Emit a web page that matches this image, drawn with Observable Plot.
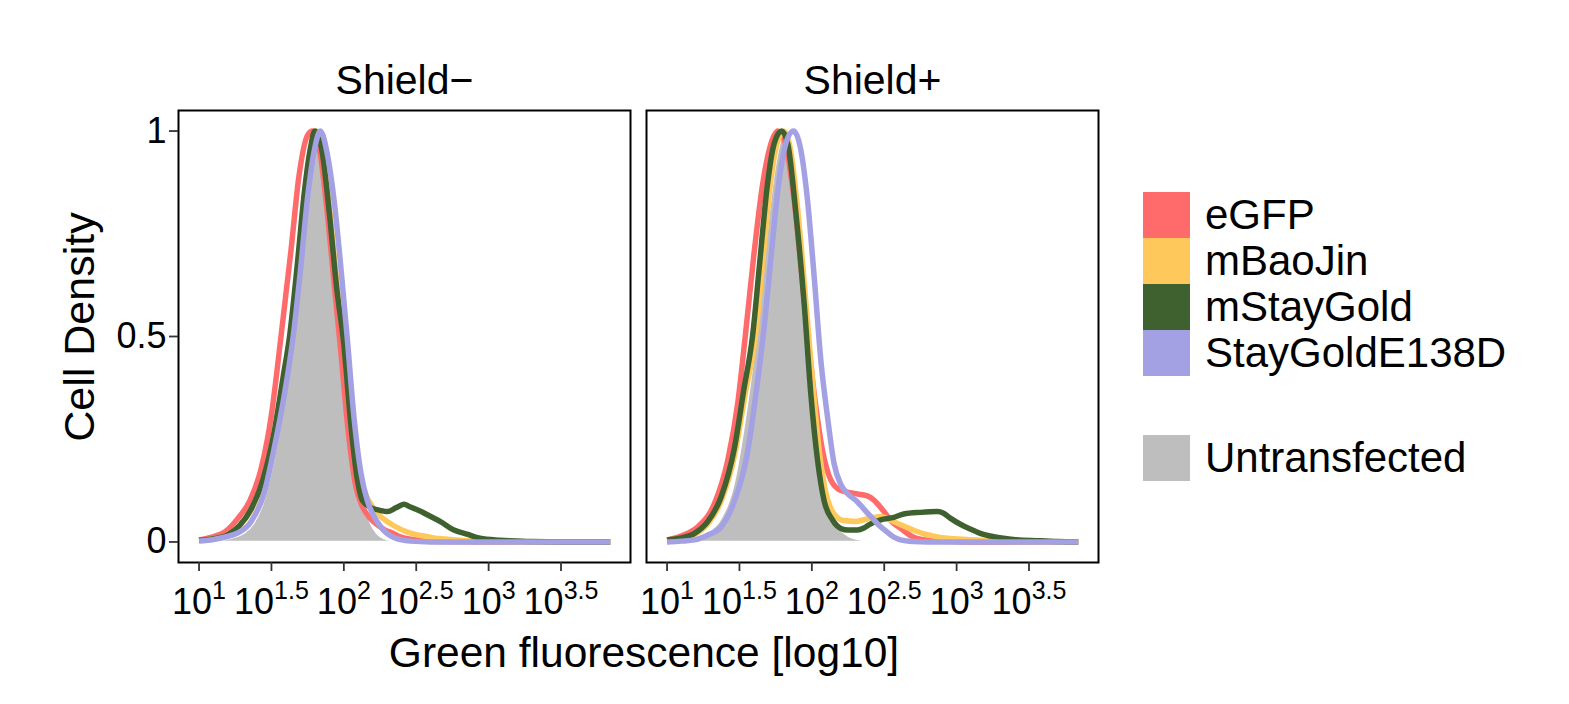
<!DOCTYPE html>
<html>
<head>
<meta charset="utf-8">
<script src="https://cdn.jsdelivr.net/npm/d3@7"></script>
<script src="https://cdn.jsdelivr.net/npm/@observablehq/plot@0.6"></script>
<style>
  html, body { margin: 0; padding: 0; background: #fff; }
  #wrap { position: relative; width: 1569px; height: 704px; font-family: "Liberation Sans", Arial, sans-serif; }
  .lg { position: absolute; left: 1143px; display: flex; flex-direction: column; }
  .row { display: flex; align-items: center; height: 46px; }
  .key { width: 47px; height: 46px; margin-right: 15px; }
  .lab { font-size: 42px; line-height: 46px; color: #000; white-space: nowrap; }
</style>
</head>
<body>
<div id="wrap"></div>
<script>
// ---- categories ----
const panels = ["Shield\u2212", "Shield+"];
const series = ["eGFP", "mBaoJin", "mStayGold", "StayGoldE138D"];
const seriesColors = ["#FF6B6B", "#FFC85A", "#3F612F", "#A3A0E3"];
const controlName = "Untransfected";
const controlColor = "#BEBEBE";
const xTicks = [1, 1.5, 2, 2.5, 3, 3.5];
const yTicks = [0, 0.5, 1];
const yTickLabels = ["0", "0.5", "1"];

// ---- Shield- : [log10 fluorescence, scaled density] ----
const minus_eGFP = [[1.00,0.005],[1.10,0.013],[1.18,0.025],[1.27,0.058],[1.35,0.10],[1.43,0.18],[1.50,0.31],[1.566,0.50],[1.635,0.71],[1.69,0.89],[1.75,0.99],[1.785,1.0],[1.83,0.96],[1.88,0.82],[1.93,0.64],[1.98,0.46],[2.03,0.27],[2.08,0.14],[2.13,0.085],[2.18,0.058],[2.23,0.042],[2.28,0.03],[2.32,0.024],[2.38,0.014],[2.44,0.008],[2.55,0.003],[2.7,0.001],[3.0,0],[3.84,0]];
const minus_mBaoJin = [[1.00,0.004],[1.10,0.008],[1.20,0.018],[1.28,0.04],[1.36,0.078],[1.44,0.145],[1.52,0.26],[1.58,0.39],[1.635,0.50],[1.69,0.68],[1.74,0.86],[1.78,0.96],[1.81,1.0],[1.855,0.95],[1.905,0.80],[1.955,0.62],[2.005,0.47],[2.055,0.28],[2.095,0.17],[2.15,0.115],[2.20,0.085],[2.26,0.06],[2.32,0.045],[2.38,0.033],[2.44,0.024],[2.50,0.018],[2.56,0.014],[2.62,0.010],[2.70,0.007],[2.80,0.004],[2.92,0.002],[3.1,0.001],[3.3,0],[3.84,0]];
const minus_mStayGold = [[1.00,0.004],[1.10,0.008],[1.20,0.018],[1.28,0.04],[1.36,0.08],[1.44,0.15],[1.52,0.27],[1.58,0.40],[1.625,0.50],[1.68,0.68],[1.73,0.86],[1.77,0.96],[1.80,1.0],[1.85,0.95],[1.90,0.80],[1.95,0.62],[2.00,0.48],[2.05,0.28],[2.09,0.16],[2.13,0.10],[2.19,0.083],[2.25,0.077],[2.30,0.074],[2.36,0.083],[2.415,0.092],[2.46,0.085],[2.51,0.078],[2.60,0.062],[2.67,0.049],[2.76,0.029],[2.85,0.019],[2.94,0.009],[3.08,0.004],[3.3,0.001],[3.5,0],[3.84,0]];
const minus_StayGoldE138D = [[1.00,0.002],[1.10,0.006],[1.18,0.012],[1.268,0.022],[1.36,0.05],[1.45,0.12],[1.52,0.23],[1.59,0.36],[1.65,0.50],[1.70,0.66],[1.75,0.84],[1.80,0.96],[1.837,1.0],[1.888,0.94],[1.933,0.83],[1.979,0.67],[2.025,0.49],[2.071,0.30],[2.117,0.17],[2.163,0.10],[2.209,0.062],[2.255,0.037],[2.30,0.02],[2.346,0.011],[2.40,0.005],[2.46,0.002],[2.6,0],[3.84,0]];
const minus_Untransfected = [[1.00,0],[1.10,0.002],[1.20,0.006],[1.314,0.02],[1.383,0.045],[1.452,0.10],[1.52,0.20],[1.589,0.34],[1.66,0.52],[1.727,0.76],[1.784,0.93],[1.823,1.0],[1.87,0.95],[1.91,0.84],[1.956,0.66],[1.99,0.53],[2.025,0.40],[2.071,0.25],[2.117,0.14],[2.151,0.086],[2.186,0.045],[2.23,0.02],[2.30,0.005],[2.40,0.001],[2.5,0],[3.84,0]];

// ---- Shield+ ----
const plus_eGFP = [[1.00,0.005],[1.10,0.015],[1.213,0.037],[1.328,0.094],[1.42,0.20],[1.489,0.34],[1.54,0.50],[1.60,0.70],[1.66,0.87],[1.71,0.96],[1.741,0.99],[1.764,1.0],[1.81,0.978],[1.878,0.832],[1.947,0.589],[2.016,0.362],[2.073,0.224],[2.131,0.151],[2.20,0.125],[2.291,0.118],[2.383,0.112],[2.429,0.102],[2.498,0.074],[2.55,0.05],[2.613,0.033],[2.70,0.012],[2.80,0.004],[2.9,0.002],[3.1,0],[3.84,0]];
const plus_mBaoJin = [[1.00,0.004],[1.10,0.008],[1.19,0.018],[1.282,0.044],[1.374,0.10],[1.466,0.21],[1.54,0.36],[1.61,0.50],[1.66,0.68],[1.71,0.86],[1.76,0.97],[1.805,1.0],[1.85,0.96],[1.905,0.80],[1.96,0.58],[2.01,0.37],[2.055,0.21],[2.10,0.115],[2.15,0.07],[2.22,0.052],[2.30,0.05],[2.38,0.056],[2.475,0.062],[2.566,0.049],[2.658,0.035],[2.70,0.029],[2.773,0.02],[2.819,0.016],[2.888,0.011],[2.98,0.008],[3.21,0.004],[3.4,0.001],[3.6,0],[3.84,0]];
const plus_mStayGold = [[1.00,0.005],[1.10,0.01],[1.19,0.021],[1.282,0.05],[1.374,0.11],[1.466,0.23],[1.53,0.37],[1.59,0.50],[1.64,0.68],[1.69,0.86],[1.74,0.97],[1.791,1.0],[1.833,0.97],[1.89,0.80],[1.947,0.58],[1.993,0.36],[2.039,0.20],[2.085,0.10],[2.142,0.054],[2.20,0.033],[2.25,0.029],[2.314,0.029],[2.36,0.034],[2.40,0.043],[2.475,0.054],[2.567,0.060],[2.635,0.068],[2.75,0.072],[2.865,0.074],[2.91,0.07],[2.956,0.058],[3.026,0.043],[3.09,0.032],[3.163,0.021],[3.255,0.013],[3.323,0.009],[3.392,0.006],[3.576,0.003],[3.7,0.001],[3.84,0]];
const plus_StayGoldE138D = [[1.00,0],[1.10,0.002],[1.19,0.005],[1.282,0.017],[1.374,0.037],[1.466,0.10],[1.557,0.22],[1.61,0.35],[1.67,0.52],[1.72,0.70],[1.77,0.87],[1.83,0.98],[1.874,1.0],[1.924,0.954],[1.97,0.832],[2.016,0.646],[2.062,0.443],[2.108,0.305],[2.154,0.19],[2.20,0.14],[2.246,0.118],[2.314,0.098],[2.36,0.08],[2.406,0.062],[2.46,0.042],[2.521,0.024],[2.57,0.011],[2.613,0.005],[2.7,0.001],[2.8,0],[3.84,0]];
const plus_Untransfected = [[1.00,0],[1.167,0.005],[1.282,0.021],[1.374,0.054],[1.466,0.14],[1.557,0.33],[1.62,0.50],[1.69,0.74],[1.75,0.91],[1.81,0.99],[1.85,0.95],[1.90,0.80],[1.947,0.60],[1.993,0.42],[2.039,0.26],[2.085,0.15],[2.131,0.08],[2.177,0.04],[2.245,0.015],[2.337,0.004],[2.45,0.001],[2.6,0],[3.84,0]];

// ---- build tables ----
const curveSets = {
  [panels[0]]: [minus_eGFP, minus_mBaoJin, minus_mStayGold, minus_StayGoldE138D],
  [panels[1]]: [plus_eGFP, plus_mBaoJin, plus_mStayGold, plus_StayGoldE138D]
};
const controlSets = { [panels[0]]: minus_Untransfected, [panels[1]]: plus_Untransfected };

const lines = [];
series.forEach((s, i) => {
  panels.forEach(p => {
    for (const [x, y] of curveSets[p][i]) lines.push({panel: p, series: s, x, y});
  });
});
const control = [];
panels.forEach(p => { for (const [x, y] of controlSets[p]) control.push({panel: p, x, y}); });

const FONT = '"Liberation Sans", Arial, sans-serif';

const chart = Plot.plot({
  width: 1569,
  height: 704,
  marginLeft: 177,
  marginRight: 470,
  marginTop: 110,
  marginBottom: 142,
  style: {fontFamily: FONT, background: "white", color: "black"},
  fx: {domain: panels, paddingInner: 0.0341, paddingOuter: 0, label: null},
  x: {domain: [0.858, 3.98]},
  y: {domain: [-0.05, 1.05]},
  color: {domain: series, range: seriesColors},
  marks: [
    Plot.areaY(control, {x: "x", y: "y", fx: "panel", fill: controlColor, stroke: "white", strokeWidth: 1.5, curve: "monotone-x"}),
    Plot.line(lines, {x: "x", y: "y", z: "series", stroke: "series", fx: "panel", strokeWidth: 5.5, curve: "monotone-x", strokeLinejoin: "round", strokeLinecap: "butt"}),
    Plot.frame({stroke: "black", strokeWidth: 2}),
    Plot.axisFx({anchor: "top", tickSize: 0, tickPadding: 17, fontSize: 41, label: null}),
    Plot.axisX({ticks: xTicks, tickSize: 9, tickPadding: 17, fontSize: 36, stroke: "#333", strokeWidth: 1.8, label: null, tickFormat: d => String(d)}),
    Plot.axisY({ticks: yTicks, tickSize: 9, tickPadding: 3, fontSize: 36, stroke: "#333", strokeWidth: 1.8, label: null, tickFormat: d => yTickLabels[yTicks.indexOf(d)]})
  ]
});

const svg = d3.select(chart);
// superscript exponents for 10^x tick labels
svg.selectAll('g[aria-label="x-axis tick label"] text').each(function () {
  const e = this.textContent;
  const t = d3.select(this);
  t.text(null);
  t.append("tspan").text("10");
  t.append("tspan").attr("dy", "-0.6em").attr("font-size", "25px").text(e);
});
// axis titles
svg.append("text").attr("x", 644).attr("y", 667).attr("text-anchor", "middle")
  .attr("font-size", 42.5).attr("fill", "black").attr("font-family", FONT)
  .text("Green fluorescence [log10]");
svg.append("text").attr("transform", "translate(94,327) rotate(-90)").attr("text-anchor", "middle")
  .attr("font-size", 43).attr("fill", "black").attr("font-family", FONT)
  .text("Cell Density");

const wrap = document.getElementById("wrap");
wrap.appendChild(chart);

// legend
function legendBlock(top, names, colors) {
  const lg = document.createElement("div");
  lg.className = "lg";
  lg.style.top = top + "px";
  names.forEach((n, i) => {
    const row = document.createElement("div");
    row.className = "row";
    const k = document.createElement("div");
    k.className = "key";
    k.style.background = colors[i];
    const l = document.createElement("div");
    l.className = "lab";
    l.textContent = n;
    row.appendChild(k); row.appendChild(l);
    lg.appendChild(row);
  });
  wrap.appendChild(lg);
}
legendBlock(192, series, seriesColors);
legendBlock(435, [controlName], [controlColor]);
</script>
</body>
</html>
